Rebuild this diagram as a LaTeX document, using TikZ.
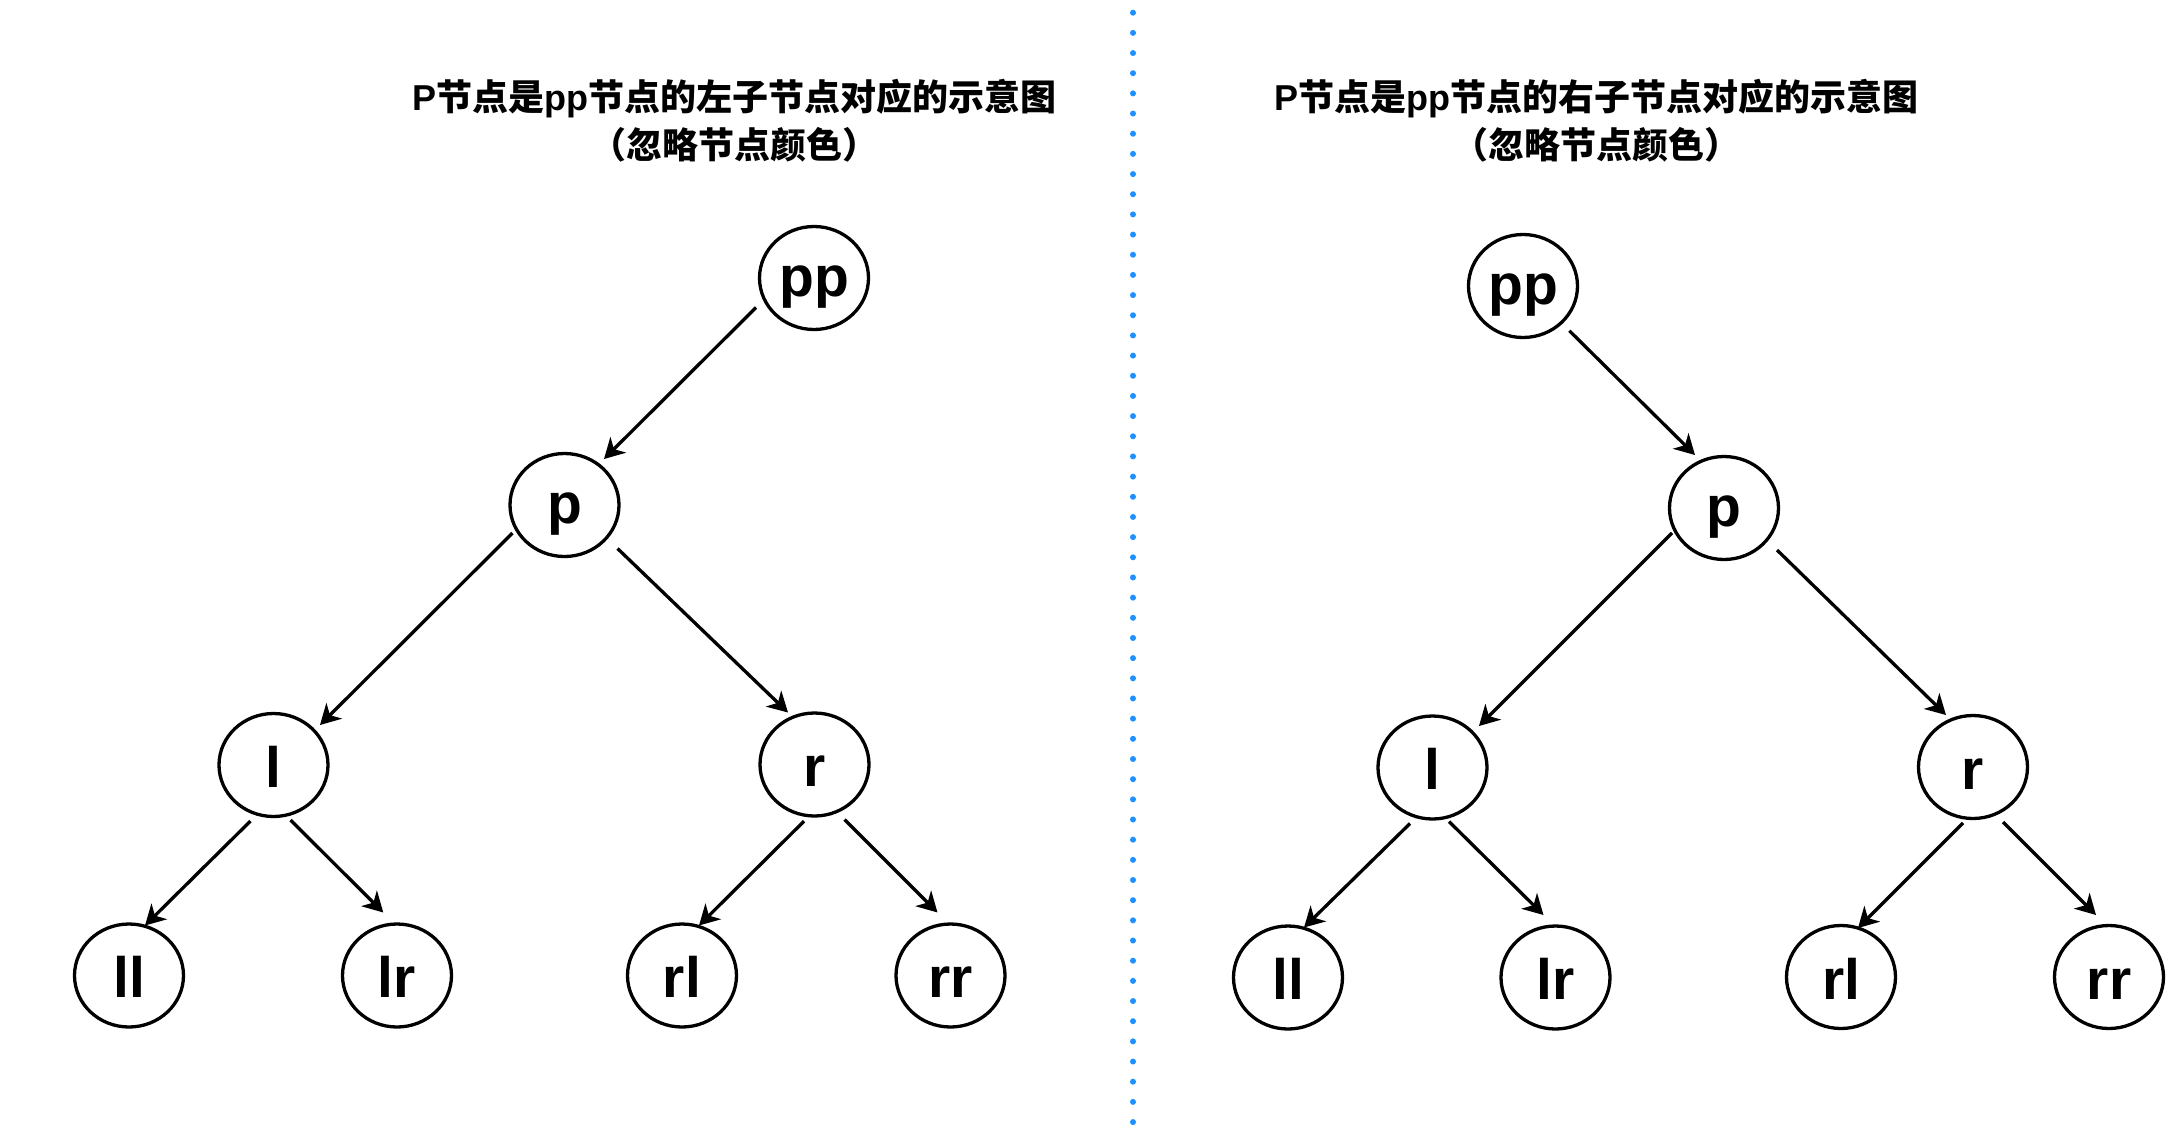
\documentclass[tikz,border=0pt]{standalone}
\usepackage{fontspec}
\usetikzlibrary{arrows.meta,calc,shapes.geometric}
\newfontfamily\cjk{Noto Sans CJK SC}
\newfontfamily\lat{Liberation Sans}
\definecolor{dotblue}{RGB}{30,144,255}
\begin{document}
\begin{tikzpicture}[x=1pt,y=-1pt,
  tnode/.style={ellipse,draw,line width=3.3pt,minimum width=109pt,minimum height=103pt,inner sep=0pt,
    font=\lat\bfseries\fontsize{57}{60}\selectfont,text height=44pt,text depth=0pt},
  pnode/.style={tnode,text height=37pt},
  edge/.style={line width=3.3pt,-{Stealth[length=20pt,width=22pt,inset=6pt]}},
  title/.style={anchor=base,inner sep=0pt,font=\lat\bfseries\fontsize{36}{39}\selectfont}]
\fill[white] (0,0) rectangle (2172,1136);
\useasboundingbox (0,0) rectangle (2172,1136);

% titles
\node[title] (TL1) at (734.5,110.5) {P{\cjk 节点是}pp{\cjk 节点的左子节点对应的示意图}};
\node[title] (TL2) at (734.5,158.5) {{\cjk （忽略节点颜色）}};
\node[title] (TR1) at (1596,110.5) {P{\cjk 节点是}pp{\cjk 节点的右子节点对应的示意图}};
\node[title] (TR2) at (1596,158.5) {{\cjk （忽略节点颜色）}};

% divider
\draw[dotblue,line width=6pt,line cap=round,dash pattern=on 0pt off 20.17pt] (1133,12.7) -- (1133,1125);

% left tree
\node[pnode] (L-pp) at (814,278) {pp};
\node[pnode] (L-p) at (564.5,505) {p};
\node[tnode] (L-l) at (273.5,765) {l};
\node[tnode] (L-r) at (814.5,764.5) {r};
\node[tnode] (L-ll) at (129,975.5) {ll};
\node[tnode] (L-lr) at (397,975.5) {lr};
\node[tnode] (L-rl) at (682,975.5) {rl};
\node[tnode] (L-rr) at (950.5,975.5) {rr};

\draw[edge] ($(L-pp)+(-58,29.5)$) -- ($(L-p)+(39.5,-46)$);
\draw[edge] ($(L-p)+(-52,28)$) -- ($(L-l)+(46.5,-40)$);
\draw[edge] ($(L-p)+(53,43.5)$) -- ($(L-r)+(-26.5,-52)$);
\draw[edge] ($(L-l)+(-23,56)$) -- ($(L-ll)+(16,-50)$);
\draw[edge] ($(L-l)+(17,55)$) -- ($(L-lr)+(-13.7,-63)$);
\draw[edge] ($(L-r)+(-10.5,56.7)$) -- ($(L-rl)+(17,-50)$);
\draw[edge] ($(L-r)+(30,55)$) -- ($(L-rr)+(-13,-63)$);

% right tree
\node[pnode] (R-pp) at (1523,286) {pp};
\node[pnode] (R-p) at (1724,508) {p};
\node[tnode] (R-l) at (1432.5,767.5) {l};
\node[tnode] (R-r) at (1973,767) {r};
\node[tnode] (R-ll) at (1288,977.5) {ll};
\node[tnode] (R-lr) at (1555.5,977.5) {lr};
\node[tnode] (R-rl) at (1841,977) {rl};
\node[tnode] (R-rr) at (2109,977) {rr};

\draw[edge] ($(R-pp)+(46.3,44.7)$) -- ($(R-p)+(-29,-53)$);
\draw[edge] ($(R-p)+(-52,25)$) -- ($(R-l)+(46.5,-41.5)$);
\draw[edge] ($(R-p)+(53,42)$) -- ($(R-r)+(-27,-52)$);
\draw[edge] ($(R-l)+(-22.5,56)$) -- ($(R-ll)+(16,-50)$);
\draw[edge] ($(R-l)+(16.5,54)$) -- ($(R-lr)+(-12,-62.5)$);
\draw[edge] ($(R-r)+(-10,56)$) -- ($(R-rl)+(17,-49)$);
\draw[edge] ($(R-r)+(30,55)$) -- ($(R-rr)+(-13,-62)$);
\end{tikzpicture}
\end{document}
